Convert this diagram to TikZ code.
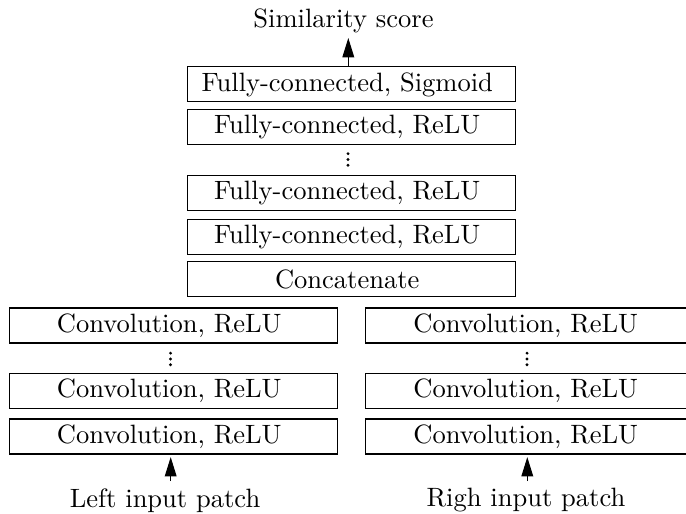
\documentclass[tikz,border=0pt]{standalone}
\usetikzlibrary{arrows.meta}
\begin{document}
\begin{tikzpicture}[x=0.3846pt,y=-0.3846pt,
  every node/.style={font=\fontsize{10.2pt}{12pt}\selectfont},
  layer/.style={draw, minimum width=126.2pt, minimum height=13.46pt, inner sep=2pt,
                execute at begin node={\hspace*{-3.3pt}}},
  lbl/.style={inner sep=2.7pt},
  dotfill/.style={fill=black},
  arr/.style={-{Triangle[length=7.4pt,width=4.5pt]}}]
\useasboundingbox (0,0) rectangle (686,514);
% top column
\node[inner sep=1.9pt] (score) at (343.5,20.5) {Similarity score};
\node[layer] (sig) at (351.5,84.4) {Fully-connected, Sigmoid};
\node[layer] (fc3) at (351.5,126.8) {Fully-connected, ReLU};
\coordinate (d0) at (348,159.5);
\node[layer] (fc2) at (351.5,193.4) {Fully-connected, ReLU};
\node[layer] (fc1) at (351.5,237) {Fully-connected, ReLU};
\node[layer] (cat) at (351.5,279.2) {Concatenate};
% left column
\node[layer] (l3) at (173.5,325.5) {Convolution, ReLU};
\coordinate (dl) at (170.5,359);
\node[layer] (l2) at (173.5,391.1) {Convolution, ReLU};
\node[layer] (l1) at (173.5,436.5) {Convolution, ReLU};
\node[lbl] (lin) at (165,500.5) {Left input patch};
% right column
\node[layer] (r3) at (530,325.5) {Convolution, ReLU};
\coordinate (dr) at (527,359);
\node[layer] (r2) at (530,391.1) {Convolution, ReLU};
\node[layer] (r1) at (530,436.5) {Convolution, ReLU};
\node[lbl] (rin) at (526,500.5) {Righ input patch};
% vertical dots
\foreach \d in {d0,dl,dr}{
  \fill[dotfill] (\d) ++(0,-5.8) circle[radius=0.6pt];
  \fill[dotfill] (\d) circle[radius=0.6pt];
  \fill[dotfill] (\d) ++(0,5.8) circle[radius=0.6pt];
}
% arrow anchor points
\coordinate (at) at ([xshift=-1.23pt]sig.north);
\coordinate (al) at ([xshift=-1.08pt]l1.south);
\coordinate (ar) at ([xshift=-1.04pt]r1.south);
% arrows
\draw[arr] (at) -- (at |- score.south);
\draw[arr, shorten >=1pt] (al |- lin.north) -- (al);
\draw[arr, shorten >=1pt] (ar |- rin.north) -- (ar);
\end{tikzpicture}
\end{document}
